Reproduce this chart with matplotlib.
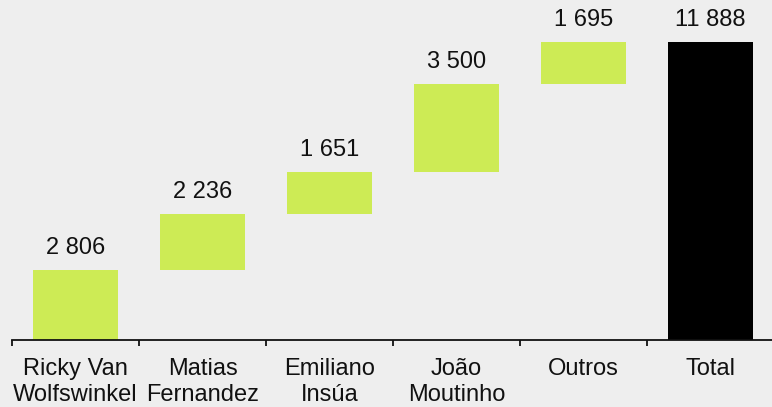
import numpy as np
import matplotlib
matplotlib.use('Agg')
from matplotlib import pyplot as plt

## data
categories = ['Ricky Van\nWolfswinkel', 'Matias\nFernandez', 'Emiliano\nInsúa', 'João\nMoutinho', 'Outros', 'Total']
values = [2806, 2236, 1651, 3500, 1695]
total = 11888
value_labels = ['2 806', '2 236', '1 651', '3 500', '1 695', '11 888']

plt.rcParams['font.family'] = ['Liberation Sans', 'DejaVu Sans']

fig = plt.figure(figsize=(7.72, 4.07), dpi=100, facecolor='#eeeeee')
ax = fig.add_axes([12/772, 1-340/407, 762/772, 340/407])
ax.set_facecolor('#eeeeee')

# waterfall bottoms
bottoms = np.concatenate([[0], np.cumsum(values)[:-1]])
x = np.arange(len(categories))
heights = list(values) + [total]
bots = list(bottoms) + [0]
colors = ['#cdeb55'] * len(values) + ['#000000']

ax.bar(x, heights, bottom=bots, width=0.67, color=colors, zorder=2)

for xi, b, h, lab in zip(x, bots, heights, value_labels):
    ax.text(xi, b + h + 440, lab, ha='center', va='bottom', fontsize=17, color='#111111')

ax.set_xlim(-0.5, 5.5)
ax.set_ylim(0, 340/298*total)

for s in ['top', 'left', 'right']:
    ax.spines[s].set_visible(False)
ax.spines['bottom'].set_linewidth(1.3)
ax.spines['bottom'].set_color('#111111')
ax.set_yticks([])

ax.set_xticks(x)
ax.set_xticklabels(categories, fontsize=17, color='#111111', linespacing=1.22)
ax.tick_params(axis='x', which='major', length=0, pad=13)
ax.set_xticks(np.arange(-0.5, 6, 1), minor=True)
ax.tick_params(axis='x', which='minor', length=4, width=1.3, color='#111111', direction='out')

fig.savefig('out.png', dpi=100, facecolor='#eeeeee')
